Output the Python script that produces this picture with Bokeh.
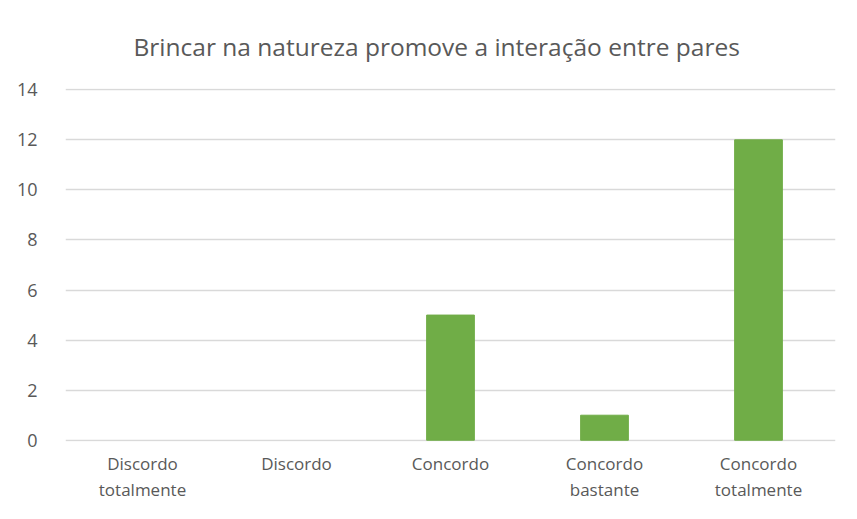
from bokeh.plotting import figure
from bokeh.models import Range1d, FixedTicker
from bokeh.embed import file_html
from bokeh.resources import INLINE

title_text = "Brincar na natureza promove a interação entre pares"
categories = ["Discordo\ntotalmente", "Discordo", "Concordo", "Concordo\nbastante", "Concordo\ntotalmente"]
values = [0, 0, 5, 1, 12]
y_ticks = [0, 2, 4, 6, 8, 10, 12, 14]

FONT = "Open Sans"
TXT = "#595959"
GRID = "#d9d9d9"
BAR = "#70AD47"

xs = [i + 0.5 for i in range(len(categories))]

p = figure(width=841, height=503, output_backend="svg", toolbar_location=None,
           x_range=Range1d(0, len(categories)), y_range=Range1d(-0.05, 14.05),
           min_border_left=65, min_border_right=6, min_border_top=88, min_border_bottom=62,
           title=title_text)
p.outline_line_color = None
p.background_fill_color = "white"
p.border_fill_color = "white"

p.title.align = "left"
p.title.offset = 68
p.title.text_font = FONT
p.title.text_font_size = "24.5px"
p.title.text_font_style = "normal"
p.title.text_color = TXT
p.title.standoff = 52

nz = [(x, v) for x, v in zip(xs, values) if v > 0]
p.vbar(x=[a for a, _ in nz], top=[b for _, b in nz], width=0.31, bottom=0,
       fill_color=BAR, line_color=BAR)

p.yaxis.ticker = FixedTicker(ticks=y_ticks)
p.xaxis.ticker = FixedTicker(ticks=xs)
p.xaxis.major_label_overrides = {x: c for x, c in zip(xs, categories)}

for ax in (p.xaxis[0], p.yaxis[0]):
    ax.major_tick_line_color = None
    ax.minor_tick_line_color = None
    ax.axis_line_color = None
    ax.major_label_text_font = FONT
    ax.major_label_text_color = TXT
ax_y = p.yaxis[0]
ax_y.major_label_text_font_size = "18px"
ax_y.major_label_standoff = 22
ax_x = p.xaxis[0]
ax_x.major_label_text_font_size = "17px"
ax_x.major_label_standoff = 4
ax_x.major_label_text_line_height = 1.15

p.xgrid.grid_line_color = None
p.ygrid.ticker = FixedTicker(ticks=y_ticks)
p.ygrid.grid_line_color = GRID
p.ygrid.grid_line_width = 1.5

open("out.html", "w").write(file_html(p, INLINE))
